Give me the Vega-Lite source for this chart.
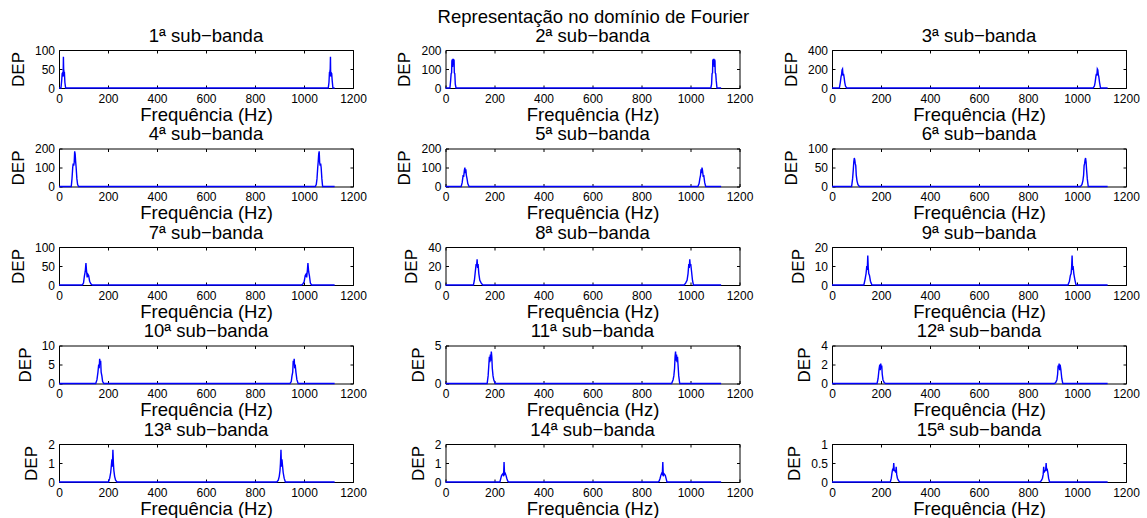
{
"$schema": "https://vega.github.io/schema/vega-lite/v6.json",
"padding": {"left": 8, "top": 7, "right": 5, "bottom": 0},
"title": {"text": "Representação no domínio de Fourier", "anchor": "middle", "dx": 19, "fontSize": 18.5, "fontWeight": "normal", "color": "black", "offset": 0},
"bounds": "flush",
"columns": 3,
"spacing": {"row": 60.5, "column": 92.5},
"datasets": {
"b1": [{"f":0,"p":0},{"f":8,"p":0},{"f":11,"p":20},{"f":13,"p":38},{"f":15,"p":40},{"f":17,"p":30},{"f":18,"p":82},{"f":19,"p":50},{"f":21,"p":40},{"f":22,"p":42},{"f":24,"p":15},{"f":27,"p":0},{"f":1099,"p":0},{"f":1102,"p":15},{"f":1104,"p":42},{"f":1105,"p":40},{"f":1107,"p":50},{"f":1108,"p":82},{"f":1109,"p":30},{"f":1111,"p":40},{"f":1113,"p":38},{"f":1115,"p":20},{"f":1118,"p":0},{"f":1125,"p":0}],
"b2": [{"f":0,"p":0},{"f":18,"p":0},{"f":21,"p":40},{"f":23,"p":75},{"f":25,"p":80},{"f":26,"p":140},{"f":27,"p":150},{"f":29,"p":110},{"f":30,"p":150},{"f":32,"p":150},{"f":33,"p":120},{"f":35,"p":150},{"f":36,"p":80},{"f":38,"p":75},{"f":40,"p":20},{"f":43,"p":0},{"f":1083,"p":0},{"f":1086,"p":20},{"f":1088,"p":75},{"f":1090,"p":80},{"f":1091,"p":150},{"f":1093,"p":120},{"f":1094,"p":150},{"f":1096,"p":150},{"f":1097,"p":110},{"f":1099,"p":150},{"f":1100,"p":140},{"f":1101,"p":80},{"f":1103,"p":75},{"f":1105,"p":40},{"f":1108,"p":0},{"f":1125,"p":0}],
"b3": [{"f":0,"p":0},{"f":30,"p":0},{"f":34,"p":60},{"f":37,"p":120},{"f":39,"p":140},{"f":41,"p":190},{"f":43,"p":200},{"f":45,"p":130},{"f":47,"p":150},{"f":49,"p":120},{"f":52,"p":60},{"f":55,"p":20},{"f":60,"p":0},{"f":1066,"p":0},{"f":1071,"p":20},{"f":1074,"p":60},{"f":1077,"p":120},{"f":1079,"p":150},{"f":1081,"p":130},{"f":1083,"p":200},{"f":1085,"p":190},{"f":1087,"p":140},{"f":1089,"p":120},{"f":1092,"p":60},{"f":1096,"p":0},{"f":1125,"p":0}],
"b4": [{"f":0,"p":0},{"f":50,"p":0},{"f":53,"p":40},{"f":56,"p":100},{"f":58,"p":120},{"f":60,"p":110},{"f":62,"p":125},{"f":64,"p":185},{"f":66,"p":170},{"f":68,"p":130},{"f":70,"p":100},{"f":73,"p":40},{"f":76,"p":10},{"f":80,"p":0},{"f":1046,"p":0},{"f":1050,"p":10},{"f":1053,"p":40},{"f":1056,"p":100},{"f":1058,"p":130},{"f":1060,"p":170},{"f":1062,"p":185},{"f":1064,"p":125},{"f":1066,"p":110},{"f":1068,"p":120},{"f":1070,"p":100},{"f":1073,"p":40},{"f":1076,"p":0},{"f":1125,"p":0}],
"b5": [{"f":0,"p":0},{"f":64,"p":0},{"f":68,"p":20},{"f":72,"p":60},{"f":74,"p":50},{"f":77,"p":85},{"f":79,"p":100},{"f":81,"p":70},{"f":83,"p":90},{"f":85,"p":60},{"f":88,"p":40},{"f":91,"p":15},{"f":96,"p":0},{"f":1030,"p":0},{"f":1035,"p":15},{"f":1038,"p":40},{"f":1041,"p":60},{"f":1043,"p":90},{"f":1045,"p":70},{"f":1047,"p":100},{"f":1049,"p":85},{"f":1052,"p":50},{"f":1054,"p":60},{"f":1058,"p":20},{"f":1062,"p":0},{"f":1125,"p":0}],
"b6": [{"f":0,"p":0},{"f":80,"p":0},{"f":84,"p":20},{"f":87,"p":45},{"f":89,"p":65},{"f":91,"p":75},{"f":93,"p":70},{"f":95,"p":60},{"f":97,"p":55},{"f":99,"p":30},{"f":102,"p":15},{"f":106,"p":5},{"f":112,"p":0},{"f":1014,"p":0},{"f":1020,"p":5},{"f":1024,"p":15},{"f":1027,"p":30},{"f":1029,"p":55},{"f":1031,"p":60},{"f":1033,"p":70},{"f":1035,"p":75},{"f":1037,"p":65},{"f":1039,"p":45},{"f":1042,"p":20},{"f":1046,"p":0},{"f":1125,"p":0}],
"b7": [{"f":0,"p":0},{"f":95,"p":0},{"f":100,"p":5},{"f":104,"p":25},{"f":107,"p":35},{"f":110,"p":58},{"f":112,"p":40},{"f":115,"p":20},{"f":118,"p":28},{"f":121,"p":25},{"f":125,"p":10},{"f":130,"p":3},{"f":136,"p":0},{"f":990,"p":0},{"f":996,"p":3},{"f":1001,"p":10},{"f":1005,"p":25},{"f":1008,"p":28},{"f":1011,"p":20},{"f":1014,"p":40},{"f":1016,"p":58},{"f":1019,"p":35},{"f":1022,"p":25},{"f":1026,"p":5},{"f":1031,"p":0},{"f":1125,"p":0}],
"b8": [{"f":0,"p":0},{"f":114,"p":0},{"f":118,"p":5},{"f":122,"p":15},{"f":125,"p":22},{"f":127,"p":20},{"f":129,"p":27},{"f":131,"p":18},{"f":133,"p":22},{"f":136,"p":12},{"f":140,"p":5},{"f":146,"p":2},{"f":152,"p":0},{"f":974,"p":0},{"f":980,"p":2},{"f":986,"p":5},{"f":990,"p":12},{"f":993,"p":22},{"f":995,"p":18},{"f":997,"p":27},{"f":999,"p":20},{"f":1001,"p":22},{"f":1004,"p":15},{"f":1008,"p":5},{"f":1012,"p":0},{"f":1125,"p":0}],
"b9": [{"f":0,"p":0},{"f":130,"p":0},{"f":135,"p":3},{"f":139,"p":6},{"f":142,"p":10},{"f":144,"p":8},{"f":146,"p":15.5},{"f":148,"p":9},{"f":150,"p":6},{"f":153,"p":5},{"f":157,"p":2},{"f":163,"p":0},{"f":963,"p":0},{"f":969,"p":2},{"f":973,"p":5},{"f":976,"p":6},{"f":978,"p":9},{"f":980,"p":15.5},{"f":982,"p":8},{"f":984,"p":10},{"f":987,"p":6},{"f":991,"p":3},{"f":996,"p":0},{"f":1125,"p":0}],
"b10": [{"f":0,"p":0},{"f":150,"p":0},{"f":155,"p":1},{"f":159,"p":3},{"f":162,"p":5},{"f":164,"p":4},{"f":166,"p":6.5},{"f":168,"p":5},{"f":170,"p":6},{"f":172,"p":3},{"f":175,"p":2},{"f":178,"p":0.5},{"f":183,"p":0},{"f":943,"p":0},{"f":948,"p":0.5},{"f":951,"p":2},{"f":954,"p":3},{"f":956,"p":6},{"f":958,"p":5},{"f":960,"p":6.5},{"f":962,"p":4},{"f":964,"p":5},{"f":967,"p":3},{"f":971,"p":1},{"f":976,"p":0},{"f":1125,"p":0}],
"b11": [{"f":0,"p":0},{"f":170,"p":0},{"f":174,"p":1},{"f":177,"p":2.5},{"f":179,"p":3.5},{"f":181,"p":2.8},{"f":183,"p":3.8},{"f":185,"p":3},{"f":187,"p":4.2},{"f":189,"p":3.5},{"f":191,"p":2},{"f":194,"p":1},{"f":197,"p":0.5},{"f":203,"p":0},{"f":923,"p":0},{"f":929,"p":0.5},{"f":932,"p":1},{"f":935,"p":2},{"f":937,"p":3.5},{"f":939,"p":4.2},{"f":941,"p":3},{"f":943,"p":3.8},{"f":945,"p":2.8},{"f":947,"p":3.5},{"f":949,"p":2.5},{"f":952,"p":1},{"f":956,"p":0},{"f":1125,"p":0}],
"b12": [{"f":0,"p":0},{"f":184,"p":0},{"f":188,"p":0.5},{"f":192,"p":1.5},{"f":195,"p":2},{"f":197,"p":1.4},{"f":199,"p":2.1},{"f":201,"p":1.6},{"f":203,"p":1.9},{"f":205,"p":1},{"f":208,"p":0.4},{"f":213,"p":0.1},{"f":219,"p":0},{"f":907,"p":0},{"f":913,"p":0.1},{"f":918,"p":0.4},{"f":921,"p":1},{"f":923,"p":1.9},{"f":925,"p":1.6},{"f":927,"p":2.1},{"f":929,"p":1.4},{"f":931,"p":2},{"f":934,"p":1.5},{"f":938,"p":0.5},{"f":942,"p":0},{"f":1125,"p":0}],
"b13": [{"f":0,"p":0},{"f":202,"p":0},{"f":207,"p":0.2},{"f":211,"p":0.5},{"f":214,"p":0.9},{"f":216,"p":1.2},{"f":218,"p":0.8},{"f":220,"p":1.7},{"f":222,"p":1},{"f":224,"p":0.6},{"f":227,"p":0.3},{"f":231,"p":0.1},{"f":237,"p":0},{"f":889,"p":0},{"f":895,"p":0.1},{"f":899,"p":0.3},{"f":902,"p":0.6},{"f":904,"p":1},{"f":906,"p":1.7},{"f":908,"p":0.8},{"f":910,"p":1.2},{"f":912,"p":0.9},{"f":915,"p":0.5},{"f":919,"p":0.2},{"f":924,"p":0},{"f":1125,"p":0}],
"b14": [{"f":0,"p":0},{"f":222,"p":0},{"f":226,"p":0.2},{"f":229,"p":0.35},{"f":232,"p":0.4},{"f":235,"p":0.45},{"f":237,"p":0.3},{"f":239,"p":1.05},{"f":241,"p":0.4},{"f":244,"p":0.45},{"f":247,"p":0.35},{"f":250,"p":0.2},{"f":254,"p":0.05},{"f":258,"p":0},{"f":868,"p":0},{"f":872,"p":0.05},{"f":876,"p":0.2},{"f":879,"p":0.35},{"f":882,"p":0.45},{"f":885,"p":0.4},{"f":887,"p":1.05},{"f":889,"p":0.3},{"f":891,"p":0.45},{"f":894,"p":0.4},{"f":897,"p":0.35},{"f":900,"p":0.2},{"f":904,"p":0},{"f":1125,"p":0}],
"b15": [{"f":0,"p":0},{"f":238,"p":0},{"f":242,"p":0.1},{"f":245,"p":0.25},{"f":248,"p":0.35},{"f":250,"p":0.3},{"f":252,"p":0.5},{"f":254,"p":0.3},{"f":257,"p":0.3},{"f":260,"p":0.25},{"f":262,"p":0.4},{"f":264,"p":0.2},{"f":267,"p":0.1},{"f":272,"p":0.03},{"f":278,"p":0},{"f":848,"p":0},{"f":854,"p":0.03},{"f":859,"p":0.1},{"f":862,"p":0.2},{"f":864,"p":0.4},{"f":866,"p":0.25},{"f":869,"p":0.3},{"f":872,"p":0.3},{"f":874,"p":0.5},{"f":876,"p":0.3},{"f":878,"p":0.35},{"f":881,"p":0.25},{"f":884,"p":0.1},{"f":888,"p":0},{"f":1125,"p":0}]
},
"concat": [
{"title": "1ª sub−banda", "width": 294, "height": 38, "data": {"name": "b1"}, "resolve": {"axis": {"x": "independent", "y": "independent"}},
 "layer": [
  {"mark": {"type": "line", "color": "#0000ff", "strokeWidth": 1.4}, "encoding": {"x": {"field": "f", "type": "quantitative", "scale": {"domain": [0, 1200], "nice": false}, "axis": {"values": [0,200,400,600,800,1000,1200], "title": "Frequência (Hz)"}}, "y": {"field": "p", "type": "quantitative", "scale": {"domain": [0, 100], "nice": false}, "axis": {"values": [0,50,100], "title": "DEP"}}}},
  {"mark": {"type": "line", "opacity": 0}, "encoding": {"x": {"field": "f", "type": "quantitative", "scale": {"domain": [0, 1200], "nice": false}, "axis": {"orient": "top", "labels": false, "title": null, "values": [0,200,400,600,800,1000,1200]}}, "y": {"field": "p", "type": "quantitative", "scale": {"domain": [0, 100], "nice": false}, "axis": {"orient": "right", "labels": false, "title": null, "values": [0,50,100]}}}}
 ]},
{"title": "2ª sub−banda", "width": 294, "height": 38, "data": {"name": "b2"}, "resolve": {"axis": {"x": "independent", "y": "independent"}},
 "layer": [
  {"mark": {"type": "line", "color": "#0000ff", "strokeWidth": 1.4}, "encoding": {"x": {"field": "f", "type": "quantitative", "scale": {"domain": [0, 1200], "nice": false}, "axis": {"values": [0,200,400,600,800,1000,1200], "title": "Frequência (Hz)"}}, "y": {"field": "p", "type": "quantitative", "scale": {"domain": [0, 200], "nice": false}, "axis": {"values": [0,100,200], "title": "DEP"}}}},
  {"mark": {"type": "line", "opacity": 0}, "encoding": {"x": {"field": "f", "type": "quantitative", "scale": {"domain": [0, 1200], "nice": false}, "axis": {"orient": "top", "labels": false, "title": null, "values": [0,200,400,600,800,1000,1200]}}, "y": {"field": "p", "type": "quantitative", "scale": {"domain": [0, 200], "nice": false}, "axis": {"orient": "right", "labels": false, "title": null, "values": [0,100,200]}}}}
 ]},
{"title": "3ª sub−banda", "width": 294, "height": 38, "data": {"name": "b3"}, "resolve": {"axis": {"x": "independent", "y": "independent"}},
 "layer": [
  {"mark": {"type": "line", "color": "#0000ff", "strokeWidth": 1.4}, "encoding": {"x": {"field": "f", "type": "quantitative", "scale": {"domain": [0, 1200], "nice": false}, "axis": {"values": [0,200,400,600,800,1000,1200], "title": "Frequência (Hz)"}}, "y": {"field": "p", "type": "quantitative", "scale": {"domain": [0, 400], "nice": false}, "axis": {"values": [0,200,400], "title": "DEP"}}}},
  {"mark": {"type": "line", "opacity": 0}, "encoding": {"x": {"field": "f", "type": "quantitative", "scale": {"domain": [0, 1200], "nice": false}, "axis": {"orient": "top", "labels": false, "title": null, "values": [0,200,400,600,800,1000,1200]}}, "y": {"field": "p", "type": "quantitative", "scale": {"domain": [0, 400], "nice": false}, "axis": {"orient": "right", "labels": false, "title": null, "values": [0,200,400]}}}}
 ]},
{"title": "4ª sub−banda", "width": 294, "height": 38, "data": {"name": "b4"}, "resolve": {"axis": {"x": "independent", "y": "independent"}},
 "layer": [
  {"mark": {"type": "line", "color": "#0000ff", "strokeWidth": 1.4}, "encoding": {"x": {"field": "f", "type": "quantitative", "scale": {"domain": [0, 1200], "nice": false}, "axis": {"values": [0,200,400,600,800,1000,1200], "title": "Frequência (Hz)"}}, "y": {"field": "p", "type": "quantitative", "scale": {"domain": [0, 200], "nice": false}, "axis": {"values": [0,100,200], "title": "DEP"}}}},
  {"mark": {"type": "line", "opacity": 0}, "encoding": {"x": {"field": "f", "type": "quantitative", "scale": {"domain": [0, 1200], "nice": false}, "axis": {"orient": "top", "labels": false, "title": null, "values": [0,200,400,600,800,1000,1200]}}, "y": {"field": "p", "type": "quantitative", "scale": {"domain": [0, 200], "nice": false}, "axis": {"orient": "right", "labels": false, "title": null, "values": [0,100,200]}}}}
 ]},
{"title": "5ª sub−banda", "width": 294, "height": 38, "data": {"name": "b5"}, "resolve": {"axis": {"x": "independent", "y": "independent"}},
 "layer": [
  {"mark": {"type": "line", "color": "#0000ff", "strokeWidth": 1.4}, "encoding": {"x": {"field": "f", "type": "quantitative", "scale": {"domain": [0, 1200], "nice": false}, "axis": {"values": [0,200,400,600,800,1000,1200], "title": "Frequência (Hz)"}}, "y": {"field": "p", "type": "quantitative", "scale": {"domain": [0, 200], "nice": false}, "axis": {"values": [0,100,200], "title": "DEP"}}}},
  {"mark": {"type": "line", "opacity": 0}, "encoding": {"x": {"field": "f", "type": "quantitative", "scale": {"domain": [0, 1200], "nice": false}, "axis": {"orient": "top", "labels": false, "title": null, "values": [0,200,400,600,800,1000,1200]}}, "y": {"field": "p", "type": "quantitative", "scale": {"domain": [0, 200], "nice": false}, "axis": {"orient": "right", "labels": false, "title": null, "values": [0,100,200]}}}}
 ]},
{"title": "6ª sub−banda", "width": 294, "height": 38, "data": {"name": "b6"}, "resolve": {"axis": {"x": "independent", "y": "independent"}},
 "layer": [
  {"mark": {"type": "line", "color": "#0000ff", "strokeWidth": 1.4}, "encoding": {"x": {"field": "f", "type": "quantitative", "scale": {"domain": [0, 1200], "nice": false}, "axis": {"values": [0,200,400,600,800,1000,1200], "title": "Frequência (Hz)"}}, "y": {"field": "p", "type": "quantitative", "scale": {"domain": [0, 100], "nice": false}, "axis": {"values": [0,50,100], "title": "DEP"}}}},
  {"mark": {"type": "line", "opacity": 0}, "encoding": {"x": {"field": "f", "type": "quantitative", "scale": {"domain": [0, 1200], "nice": false}, "axis": {"orient": "top", "labels": false, "title": null, "values": [0,200,400,600,800,1000,1200]}}, "y": {"field": "p", "type": "quantitative", "scale": {"domain": [0, 100], "nice": false}, "axis": {"orient": "right", "labels": false, "title": null, "values": [0,50,100]}}}}
 ]},
{"title": "7ª sub−banda", "width": 294, "height": 38, "data": {"name": "b7"}, "resolve": {"axis": {"x": "independent", "y": "independent"}},
 "layer": [
  {"mark": {"type": "line", "color": "#0000ff", "strokeWidth": 1.4}, "encoding": {"x": {"field": "f", "type": "quantitative", "scale": {"domain": [0, 1200], "nice": false}, "axis": {"values": [0,200,400,600,800,1000,1200], "title": "Frequência (Hz)"}}, "y": {"field": "p", "type": "quantitative", "scale": {"domain": [0, 100], "nice": false}, "axis": {"values": [0,50,100], "title": "DEP"}}}},
  {"mark": {"type": "line", "opacity": 0}, "encoding": {"x": {"field": "f", "type": "quantitative", "scale": {"domain": [0, 1200], "nice": false}, "axis": {"orient": "top", "labels": false, "title": null, "values": [0,200,400,600,800,1000,1200]}}, "y": {"field": "p", "type": "quantitative", "scale": {"domain": [0, 100], "nice": false}, "axis": {"orient": "right", "labels": false, "title": null, "values": [0,50,100]}}}}
 ]},
{"title": "8ª sub−banda", "width": 294, "height": 38, "data": {"name": "b8"}, "resolve": {"axis": {"x": "independent", "y": "independent"}},
 "layer": [
  {"mark": {"type": "line", "color": "#0000ff", "strokeWidth": 1.4}, "encoding": {"x": {"field": "f", "type": "quantitative", "scale": {"domain": [0, 1200], "nice": false}, "axis": {"values": [0,200,400,600,800,1000,1200], "title": "Frequência (Hz)"}}, "y": {"field": "p", "type": "quantitative", "scale": {"domain": [0, 40], "nice": false}, "axis": {"values": [0,20,40], "title": "DEP"}}}},
  {"mark": {"type": "line", "opacity": 0}, "encoding": {"x": {"field": "f", "type": "quantitative", "scale": {"domain": [0, 1200], "nice": false}, "axis": {"orient": "top", "labels": false, "title": null, "values": [0,200,400,600,800,1000,1200]}}, "y": {"field": "p", "type": "quantitative", "scale": {"domain": [0, 40], "nice": false}, "axis": {"orient": "right", "labels": false, "title": null, "values": [0,20,40]}}}}
 ]},
{"title": "9ª sub−banda", "width": 294, "height": 38, "data": {"name": "b9"}, "resolve": {"axis": {"x": "independent", "y": "independent"}},
 "layer": [
  {"mark": {"type": "line", "color": "#0000ff", "strokeWidth": 1.4}, "encoding": {"x": {"field": "f", "type": "quantitative", "scale": {"domain": [0, 1200], "nice": false}, "axis": {"values": [0,200,400,600,800,1000,1200], "title": "Frequência (Hz)"}}, "y": {"field": "p", "type": "quantitative", "scale": {"domain": [0, 20], "nice": false}, "axis": {"values": [0,10,20], "title": "DEP"}}}},
  {"mark": {"type": "line", "opacity": 0}, "encoding": {"x": {"field": "f", "type": "quantitative", "scale": {"domain": [0, 1200], "nice": false}, "axis": {"orient": "top", "labels": false, "title": null, "values": [0,200,400,600,800,1000,1200]}}, "y": {"field": "p", "type": "quantitative", "scale": {"domain": [0, 20], "nice": false}, "axis": {"orient": "right", "labels": false, "title": null, "values": [0,10,20]}}}}
 ]},
{"title": "10ª sub−banda", "width": 294, "height": 38, "data": {"name": "b10"}, "resolve": {"axis": {"x": "independent", "y": "independent"}},
 "layer": [
  {"mark": {"type": "line", "color": "#0000ff", "strokeWidth": 1.4}, "encoding": {"x": {"field": "f", "type": "quantitative", "scale": {"domain": [0, 1200], "nice": false}, "axis": {"values": [0,200,400,600,800,1000,1200], "title": "Frequência (Hz)"}}, "y": {"field": "p", "type": "quantitative", "scale": {"domain": [0, 10], "nice": false}, "axis": {"values": [0,5,10], "title": "DEP"}}}},
  {"mark": {"type": "line", "opacity": 0}, "encoding": {"x": {"field": "f", "type": "quantitative", "scale": {"domain": [0, 1200], "nice": false}, "axis": {"orient": "top", "labels": false, "title": null, "values": [0,200,400,600,800,1000,1200]}}, "y": {"field": "p", "type": "quantitative", "scale": {"domain": [0, 10], "nice": false}, "axis": {"orient": "right", "labels": false, "title": null, "values": [0,5,10]}}}}
 ]},
{"title": "11ª sub−banda", "width": 294, "height": 38, "data": {"name": "b11"}, "resolve": {"axis": {"x": "independent", "y": "independent"}},
 "layer": [
  {"mark": {"type": "line", "color": "#0000ff", "strokeWidth": 1.4}, "encoding": {"x": {"field": "f", "type": "quantitative", "scale": {"domain": [0, 1200], "nice": false}, "axis": {"values": [0,200,400,600,800,1000,1200], "title": "Frequência (Hz)"}}, "y": {"field": "p", "type": "quantitative", "scale": {"domain": [0, 5], "nice": false}, "axis": {"values": [0,5], "title": "DEP"}}}},
  {"mark": {"type": "line", "opacity": 0}, "encoding": {"x": {"field": "f", "type": "quantitative", "scale": {"domain": [0, 1200], "nice": false}, "axis": {"orient": "top", "labels": false, "title": null, "values": [0,200,400,600,800,1000,1200]}}, "y": {"field": "p", "type": "quantitative", "scale": {"domain": [0, 5], "nice": false}, "axis": {"orient": "right", "labels": false, "title": null, "values": [0,5]}}}}
 ]},
{"title": "12ª sub−banda", "width": 294, "height": 38, "data": {"name": "b12"}, "resolve": {"axis": {"x": "independent", "y": "independent"}},
 "layer": [
  {"mark": {"type": "line", "color": "#0000ff", "strokeWidth": 1.4}, "encoding": {"x": {"field": "f", "type": "quantitative", "scale": {"domain": [0, 1200], "nice": false}, "axis": {"values": [0,200,400,600,800,1000,1200], "title": "Frequência (Hz)"}}, "y": {"field": "p", "type": "quantitative", "scale": {"domain": [0, 4], "nice": false}, "axis": {"values": [0,2,4], "title": "DEP"}}}},
  {"mark": {"type": "line", "opacity": 0}, "encoding": {"x": {"field": "f", "type": "quantitative", "scale": {"domain": [0, 1200], "nice": false}, "axis": {"orient": "top", "labels": false, "title": null, "values": [0,200,400,600,800,1000,1200]}}, "y": {"field": "p", "type": "quantitative", "scale": {"domain": [0, 4], "nice": false}, "axis": {"orient": "right", "labels": false, "title": null, "values": [0,2,4]}}}}
 ]},
{"title": "13ª sub−banda", "width": 294, "height": 38, "data": {"name": "b13"}, "resolve": {"axis": {"x": "independent", "y": "independent"}},
 "layer": [
  {"mark": {"type": "line", "color": "#0000ff", "strokeWidth": 1.4}, "encoding": {"x": {"field": "f", "type": "quantitative", "scale": {"domain": [0, 1200], "nice": false}, "axis": {"values": [0,200,400,600,800,1000,1200], "title": "Frequência (Hz)"}}, "y": {"field": "p", "type": "quantitative", "scale": {"domain": [0, 2], "nice": false}, "axis": {"values": [0,1,2], "title": "DEP"}}}},
  {"mark": {"type": "line", "opacity": 0}, "encoding": {"x": {"field": "f", "type": "quantitative", "scale": {"domain": [0, 1200], "nice": false}, "axis": {"orient": "top", "labels": false, "title": null, "values": [0,200,400,600,800,1000,1200]}}, "y": {"field": "p", "type": "quantitative", "scale": {"domain": [0, 2], "nice": false}, "axis": {"orient": "right", "labels": false, "title": null, "values": [0,1,2]}}}}
 ]},
{"title": "14ª sub−banda", "width": 294, "height": 38, "data": {"name": "b14"}, "resolve": {"axis": {"x": "independent", "y": "independent"}},
 "layer": [
  {"mark": {"type": "line", "color": "#0000ff", "strokeWidth": 1.4}, "encoding": {"x": {"field": "f", "type": "quantitative", "scale": {"domain": [0, 1200], "nice": false}, "axis": {"values": [0,200,400,600,800,1000,1200], "title": "Frequência (Hz)"}}, "y": {"field": "p", "type": "quantitative", "scale": {"domain": [0, 2], "nice": false}, "axis": {"values": [0,1,2], "title": "DEP"}}}},
  {"mark": {"type": "line", "opacity": 0}, "encoding": {"x": {"field": "f", "type": "quantitative", "scale": {"domain": [0, 1200], "nice": false}, "axis": {"orient": "top", "labels": false, "title": null, "values": [0,200,400,600,800,1000,1200]}}, "y": {"field": "p", "type": "quantitative", "scale": {"domain": [0, 2], "nice": false}, "axis": {"orient": "right", "labels": false, "title": null, "values": [0,1,2]}}}}
 ]},
{"title": "15ª sub−banda", "width": 294, "height": 38, "data": {"name": "b15"}, "resolve": {"axis": {"x": "independent", "y": "independent"}},
 "layer": [
  {"mark": {"type": "line", "color": "#0000ff", "strokeWidth": 1.4}, "encoding": {"x": {"field": "f", "type": "quantitative", "scale": {"domain": [0, 1200], "nice": false}, "axis": {"values": [0,200,400,600,800,1000,1200], "title": "Frequência (Hz)"}}, "y": {"field": "p", "type": "quantitative", "scale": {"domain": [0, 1], "nice": false}, "axis": {"values": [0,0.5,1], "title": "DEP"}}}},
  {"mark": {"type": "line", "opacity": 0}, "encoding": {"x": {"field": "f", "type": "quantitative", "scale": {"domain": [0, 1200], "nice": false}, "axis": {"orient": "top", "labels": false, "title": null, "values": [0,200,400,600,800,1000,1200]}}, "y": {"field": "p", "type": "quantitative", "scale": {"domain": [0, 1], "nice": false}, "axis": {"orient": "right", "labels": false, "title": null, "values": [0,0.5,1]}}}}
 ]}
],
"config": {
 "font": "Liberation Sans",
 "background": "white",
 "view": {"stroke": "black", "strokeWidth": 1},
 "title": {"fontSize": 18.5, "fontWeight": "normal", "color": "black", "baseline": "alphabetic", "offset": -1},
 "axis": {"domain": false, "grid": false, "tickSize": -3, "tickColor": "black", "tickWidth": 1, "labelFontSize": 12, "labelColor": "black", "labelFlush": false, "labelOverlap": false, "titleFontWeight": "normal", "titleColor": "black", "minExtent": 0, "format": "~r"},
 "axisX": {"labelPadding": 8, "titlePadding": 1, "titleFontSize": 18.5},
 "axisY": {"labelPadding": 7.5, "titlePadding": 7, "titleFontSize": 17}
}
}
